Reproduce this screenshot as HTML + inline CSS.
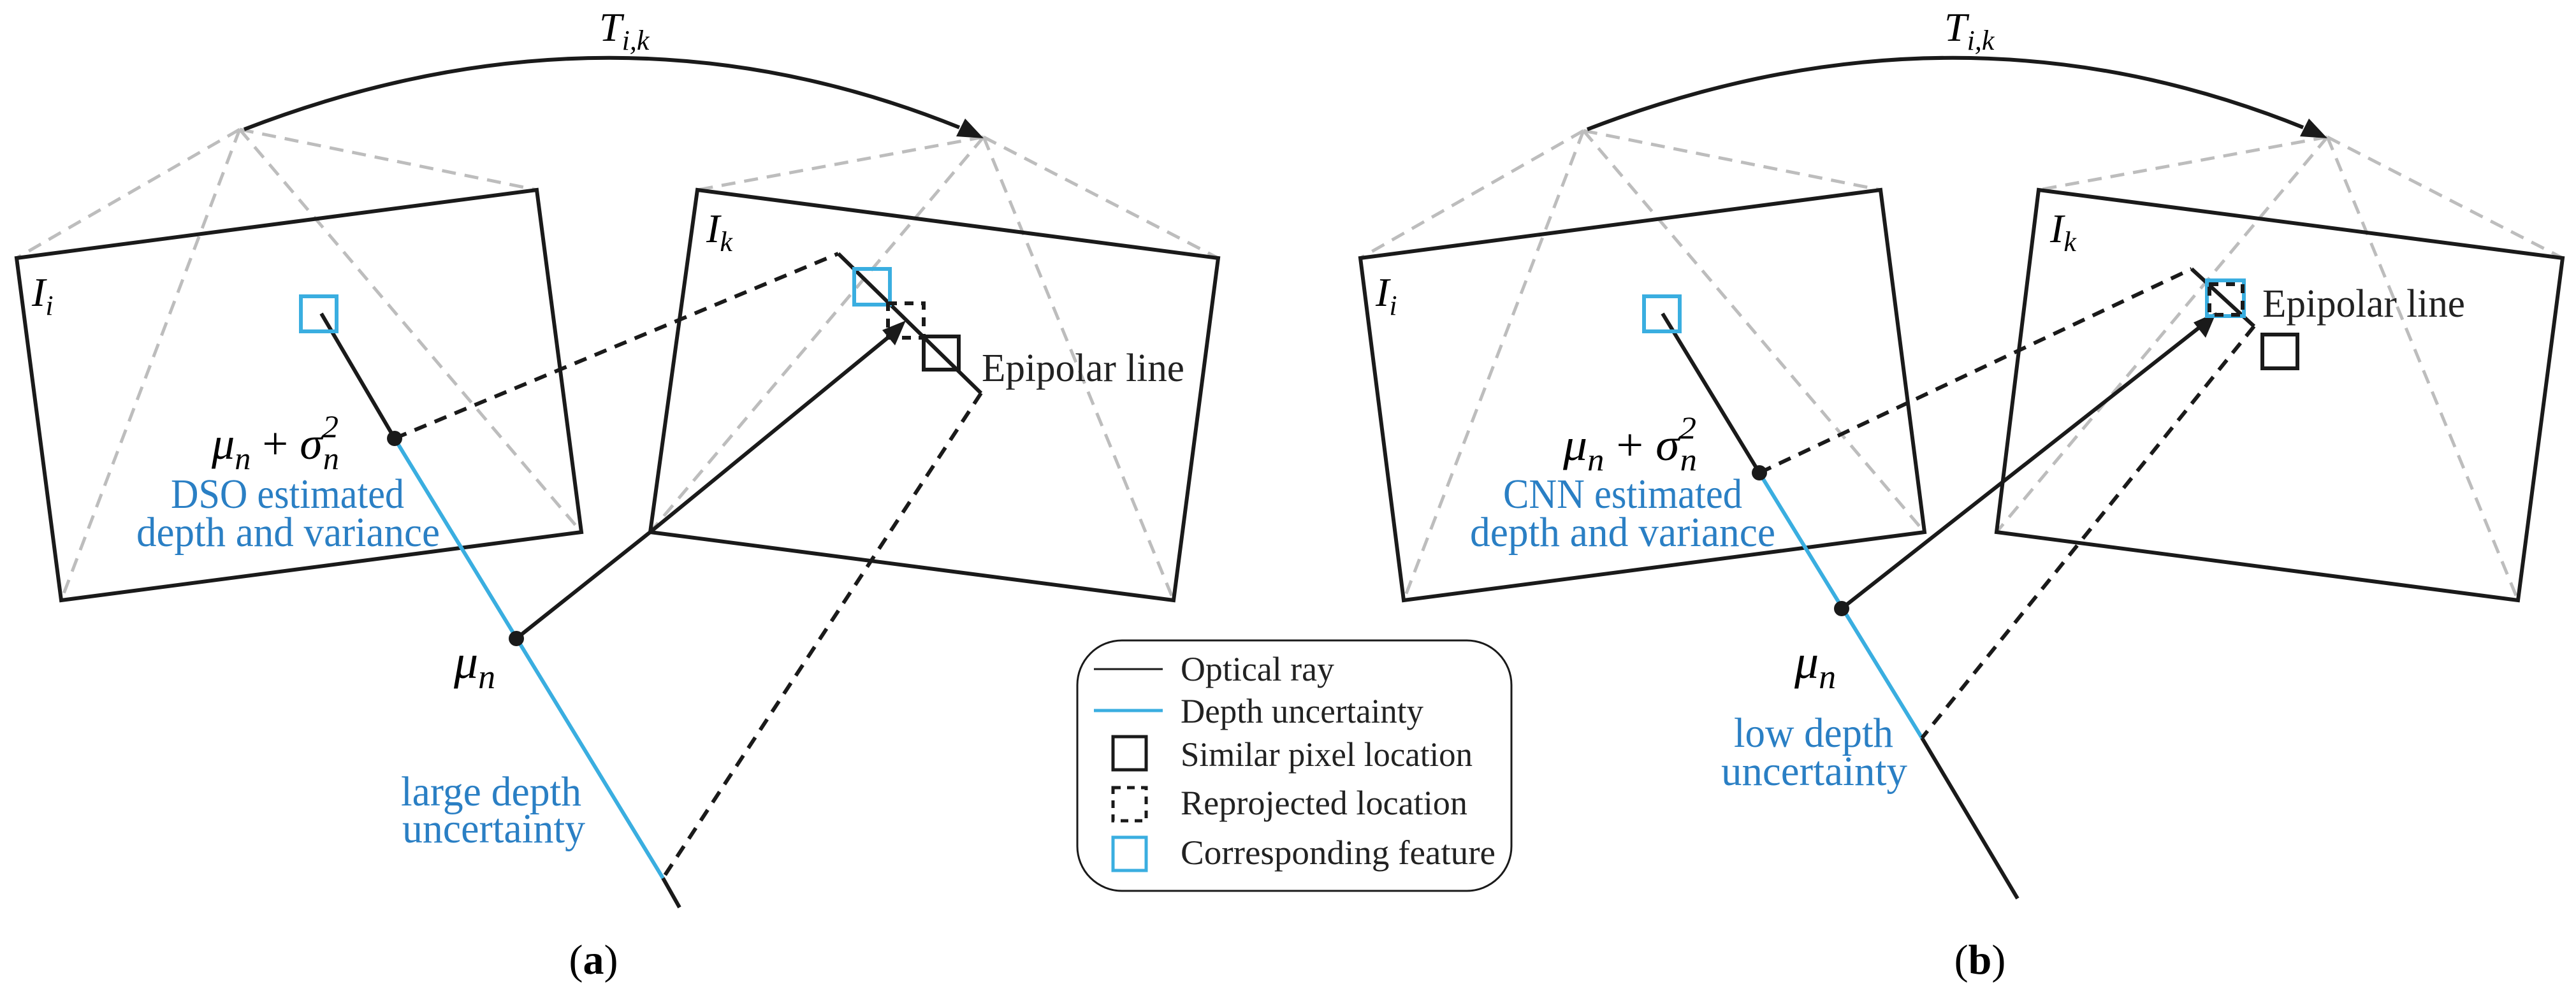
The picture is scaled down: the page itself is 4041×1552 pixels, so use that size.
<!DOCTYPE html>
<html><head><meta charset="utf-8"><style>
html,body{margin:0;padding:0;background:#fff;}
svg{display:block;}
text{font-family:"Liberation Serif",serif;}
.m{font-style:italic;}
</style></head><body>
<svg width="4041" height="1552" viewBox="0 0 4041 1552" xmlns="http://www.w3.org/2000/svg">
<g id="A">
<g stroke="#bdbdbd" stroke-width="5" stroke-dasharray="22 14" fill="none">
<line x1="376" y1="203" x2="26" y2="405"/>
<line x1="376" y1="203" x2="842" y2="298"/>
<line x1="376" y1="203" x2="912" y2="835"/>
<line x1="376" y1="203" x2="96" y2="942"/>
<line x1="1543" y1="215" x2="1094" y2="298"/>
<line x1="1543" y1="215" x2="1911" y2="405"/>
<line x1="1543" y1="215" x2="1841" y2="942"/>
<line x1="1543" y1="215" x2="1020" y2="835"/>
</g>
<g stroke="#1a1a1a" stroke-width="6" fill="none">
<polygon points="26,405 842,298 912,835 96,942"/>
<polygon points="1094,298 1911,405 1841,942 1020,835"/>
<path d="M383,203 Q960,-20 1505,200"/>
</g>
<path d="M1543,217 L1500,214 L1514,186 Z" fill="#1a1a1a"/>
<text x="940" y="64" font-size="64" class="m">T<tspan font-size="44" dy="14">i,k</tspan></text>
<text x="50" y="480" font-size="64" class="m">I<tspan font-size="44" dy="14">i</tspan></text>
<text x="1108" y="380" font-size="64" class="m">I<tspan font-size="44" dy="14">k</tspan></text>
<line x1="619" y1="688" x2="1040" y2="1378" stroke="#3aaee0" stroke-width="6"/>
<line x1="1040" y1="1378" x2="1066" y2="1424" stroke="#1a1a1a" stroke-width="6"/>
<line x1="504" y1="492" x2="619" y2="688" stroke="#1a1a1a" stroke-width="6"/>
<polyline points="810,1002 1020,835 1395,528" fill="none" stroke="#1a1a1a" stroke-width="6"/>
<path d="M1421,503 L1384,518 L1404,542 Z" fill="#1a1a1a"/>
<g stroke="#1a1a1a" stroke-width="6" fill="none" stroke-dasharray="20 14">
<line x1="619" y1="688" x2="1315" y2="398"/>
<line x1="1539" y1="617" x2="1040" y2="1378"/>
</g>
<line x1="1315" y1="398" x2="1539" y2="617" stroke="#1a1a1a" stroke-width="6"/>
<rect x="1340" y="422" width="56" height="56" fill="none" stroke="#3aaee0" stroke-width="6"/>
<rect x="1393" y="476" width="56" height="54" fill="none" stroke="#1a1a1a" stroke-width="6" stroke-dasharray="14 12"/>
<rect x="1449" y="528" width="55" height="52" fill="none" stroke="#1a1a1a" stroke-width="6"/>
<rect x="472" y="465" width="56" height="55" fill="none" stroke="#3aaee0" stroke-width="6"/>
<circle cx="619" cy="688" r="12" fill="#1a1a1a"/>
<circle cx="810" cy="1002" r="12" fill="#1a1a1a"/>
<text x="1540" y="598" font-size="62" textLength="318" lengthAdjust="spacingAndGlyphs" fill="#222">Epipolar line</text>
<text x="332" y="720" font-size="72" class="m" textLength="200" lengthAdjust="spacingAndGlyphs">μ<tspan font-size="50" dy="16">n</tspan><tspan dy="-16" font-style="normal"> + </tspan>σ<tspan font-size="50" dy="-34">2</tspan><tspan font-size="50" dx="-24" dy="50">n</tspan></text>
<text x="268" y="797" font-size="66" fill="#2a7fc4" textLength="366" lengthAdjust="spacingAndGlyphs">DSO estimated</text>
<text x="214" y="857" font-size="66" fill="#2a7fc4" textLength="476" lengthAdjust="spacingAndGlyphs">depth and variance</text>
<text x="712" y="1064" font-size="76" class="m">μ<tspan font-size="54" dy="16">n</tspan></text>
<text x="629" y="1264" font-size="66" fill="#2a7fc4" textLength="283" lengthAdjust="spacingAndGlyphs">large depth</text>
<text x="631" y="1322" font-size="66" fill="#2a7fc4" textLength="287" lengthAdjust="spacingAndGlyphs">uncertainty</text>
<text x="931" y="1528" font-size="66" text-anchor="middle">(<tspan font-weight="bold">a</tspan>)</text>
</g>

<g id="B">
<g stroke="#bdbdbd" stroke-width="5" stroke-dasharray="22 14" fill="none">
<line x1="2484" y1="205" x2="2134" y2="405"/>
<line x1="2484" y1="205" x2="2950" y2="298"/>
<line x1="2484" y1="205" x2="3019" y2="835"/>
<line x1="2484" y1="205" x2="2202" y2="942"/>
<line x1="3651" y1="215" x2="3198" y2="298"/>
<line x1="3651" y1="215" x2="4020" y2="405"/>
<line x1="3651" y1="215" x2="3950" y2="942"/>
<line x1="3651" y1="215" x2="3132" y2="835"/>
</g>
<g stroke="#1a1a1a" stroke-width="6" fill="none">
<polygon points="2134,405 2950,298 3019,835 2202,942"/>
<polygon points="3198,298 4020,405 3950,942 3132,835"/>
<path d="M2490,203 Q3068,-20 3613,200"/>
</g>
<path d="M3651,217 L3608,214 L3622,186 Z" fill="#1a1a1a"/>
<text x="3050" y="64" font-size="64" class="m">T<tspan font-size="44" dy="14">i,k</tspan></text>
<text x="2158" y="480" font-size="64" class="m">I<tspan font-size="44" dy="14">i</tspan></text>
<text x="3216" y="380" font-size="64" class="m">I<tspan font-size="44" dy="14">k</tspan></text>
<line x1="2760" y1="742" x2="3015" y2="1158" stroke="#3aaee0" stroke-width="6"/>
<line x1="3015" y1="1158" x2="3165" y2="1410" stroke="#1a1a1a" stroke-width="6"/>
<line x1="2608" y1="492" x2="2760" y2="742" stroke="#1a1a1a" stroke-width="6"/>
<line x1="2889" y1="955" x2="3455" y2="510" stroke="#1a1a1a" stroke-width="6"/>
<path d="M3477,490 L3441,506 L3460,530 Z" fill="#1a1a1a"/>
<g stroke="#1a1a1a" stroke-width="6" fill="none" stroke-dasharray="20 14">
<line x1="2760" y1="742" x2="3438" y2="422"/>
<line x1="3536" y1="512" x2="3015" y2="1158"/>
</g>
<line x1="3438" y1="422" x2="3536" y2="512" stroke="#1a1a1a" stroke-width="6"/>
<rect x="3462" y="440" width="58" height="56" fill="none" stroke="#3aaee0" stroke-width="6"/>
<rect x="3466" y="446" width="52" height="48" fill="none" stroke="#1a1a1a" stroke-width="6" stroke-dasharray="14 12"/>
<rect x="3549" y="525" width="55" height="53" fill="none" stroke="#1a1a1a" stroke-width="6"/>
<rect x="2579" y="465" width="56" height="55" fill="none" stroke="#3aaee0" stroke-width="6"/>
<circle cx="2760" cy="742" r="12" fill="#1a1a1a"/>
<circle cx="2889" cy="955" r="12" fill="#1a1a1a"/>
<text x="3549" y="497" font-size="62" textLength="318" lengthAdjust="spacingAndGlyphs" fill="#222">Epipolar line</text>
<text x="2452" y="722" font-size="72" class="m" textLength="210" lengthAdjust="spacingAndGlyphs">μ<tspan font-size="50" dy="16">n</tspan><tspan dy="-16" font-style="normal"> + </tspan>σ<tspan font-size="50" dy="-34">2</tspan><tspan font-size="50" dx="-24" dy="50">n</tspan></text>
<text x="2358" y="797" font-size="66" fill="#2a7fc4" textLength="375" lengthAdjust="spacingAndGlyphs">CNN estimated</text>
<text x="2306" y="857" font-size="66" fill="#2a7fc4" textLength="479" lengthAdjust="spacingAndGlyphs">depth and variance</text>
<text x="2815" y="1064" font-size="76" class="m">μ<tspan font-size="54" dy="16">n</tspan></text>
<text x="2720" y="1172" font-size="66" fill="#2a7fc4" textLength="250" lengthAdjust="spacingAndGlyphs">low depth</text>
<text x="2700" y="1232" font-size="66" fill="#2a7fc4" textLength="292" lengthAdjust="spacingAndGlyphs">uncertainty</text>
<text x="3106" y="1528" font-size="66" text-anchor="middle">(<tspan font-weight="bold">b</tspan>)</text>
</g>

<rect x="1690" y="1005" width="681" height="393" rx="70" ry="70" fill="#fff" stroke="#1a1a1a" stroke-width="3"/>
<line x1="1716" y1="1050" x2="1824" y2="1050" stroke="#1a1a1a" stroke-width="3"/>
<line x1="1716" y1="1115" x2="1824" y2="1115" stroke="#3aaee0" stroke-width="5"/>
<rect x="1746" y="1156" width="52" height="52" fill="none" stroke="#1a1a1a" stroke-width="5"/>
<rect x="1746" y="1236" width="52" height="52" fill="none" stroke="#1a1a1a" stroke-width="5" stroke-dasharray="12 10"/>
<rect x="1746" y="1314" width="52" height="52" fill="none" stroke="#3aaee0" stroke-width="5"/>
<g font-size="54" fill="#222">
<text x="1852" y="1068" textLength="241" lengthAdjust="spacingAndGlyphs">Optical ray</text>
<text x="1852" y="1134" textLength="381" lengthAdjust="spacingAndGlyphs">Depth uncertainty</text>
<text x="1852" y="1202" textLength="458" lengthAdjust="spacingAndGlyphs">Similar pixel location</text>
<text x="1852" y="1278" textLength="450" lengthAdjust="spacingAndGlyphs">Reprojected location</text>
<text x="1852" y="1356" textLength="494" lengthAdjust="spacingAndGlyphs">Corresponding feature</text>
</g>
</svg>
</body></html>
